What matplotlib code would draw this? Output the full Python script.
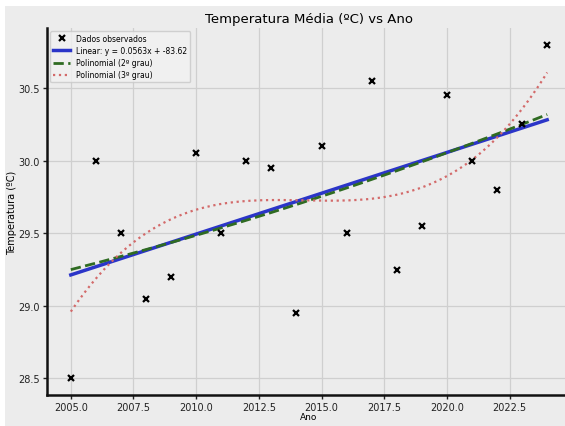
import numpy as np
import matplotlib
matplotlib.use("Agg")
import matplotlib.pyplot as plt
from matplotlib.patches import Rectangle

# Temperatura média anual observada
anos = np.arange(2005, 2025)
temperaturas = np.array([28.50, 30.00, 29.50, 29.05, 29.20, 30.05, 29.50, 30.00, 29.95, 28.95,
                         30.10, 29.50, 30.55, 29.25, 29.55, 30.45, 30.00, 29.80, 30.25, 30.80])

# --- Ajustes polinomiais ---
coef_lin = np.polyfit(anos, temperaturas, 1)
coef_q2 = np.polyfit(anos, temperaturas, 2)
coef_q3 = np.polyfit(anos, temperaturas, 3)
x_fit = np.linspace(anos.min(), anos.max(), 200)

fundo = "#ececec"
fig = plt.figure(figsize=(5.65, 4.27), dpi=100, facecolor="white")
fig.patches.append(Rectangle((5 / 565, 0), 1, 1 - 7 / 427, transform=fig.transFigure,
                             facecolor=fundo, edgecolor="none", zorder=-10))
ax = fig.add_axes([47 / 565, 31 / 427, 524 / 565, 367 / 427])
ax.set_facecolor(fundo)

ax.plot(anos, temperaturas, "kx", markersize=5, markeredgewidth=1.6, label="Dados observados", zorder=5)
ax.plot(x_fit, np.polyval(coef_lin, x_fit), color="#2b35c8", linewidth=2.5,
        label=f"Linear: y = {coef_lin[0]:.4f}x + {coef_lin[1]:.2f}", zorder=3)
ax.plot(x_fit, np.polyval(coef_q2, x_fit), color="#2f6b22", linestyle="--", linewidth=2,
        label="Polinomial (2º grau)", zorder=4)
ax.plot(x_fit, np.polyval(coef_q3, x_fit), color="#d36a6a", linestyle=":", linewidth=1.6,
        label="Polinomial (3º grau)", zorder=4)

ax.set_title("Temperatura Média (ºC) vs Ano", fontsize=9.5, pad=4)
ax.set_xlabel("Ano", fontsize=6.5, labelpad=0)
ax.set_ylabel("Temperatura (ºC)", fontsize=7)
ax.yaxis.set_label_coords(-0.058, 0.5)
ax.set_yticks([28.5, 29.0, 29.5, 30.0, 30.5])
ax.tick_params(labelsize=7, length=3, width=1, colors="#222222", pad=2)
ax.grid(True, color="#cfcfcf", linewidth=0.9)
ax.set_axisbelow(True)

for lado in ["top", "right"]:
    ax.spines[lado].set_visible(False)
for lado in ["left", "bottom"]:
    ax.spines[lado].set_linewidth(1.8)
    ax.spines[lado].set_color("#111111")

leg = ax.legend(loc="upper left", fontsize=5.5, frameon=True, borderaxespad=0.4,
                handlelength=2.2, labelspacing=0.4)
leg.get_frame().set_facecolor("#f2f2f2")
leg.get_frame().set_edgecolor("#c8c8c8")

fig.savefig("out.png", dpi=100, facecolor=fig.get_facecolor())
